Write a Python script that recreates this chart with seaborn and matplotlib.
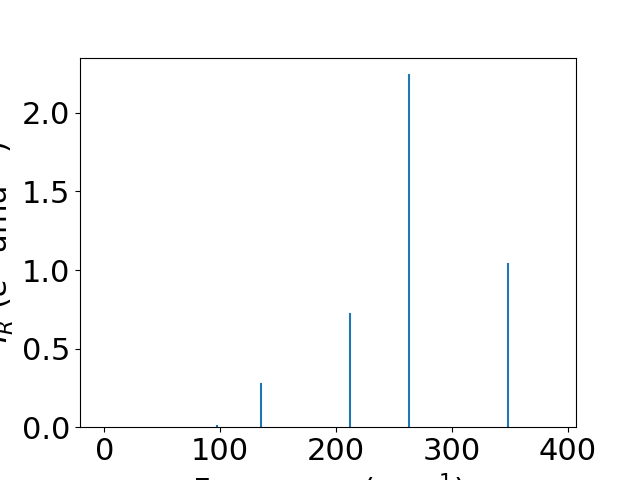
import pandas as pd
import matplotlib
matplotlib.use('Agg')
import matplotlib.pyplot as plt
import seaborn as sns

# Vibrational modes
frequencies = [97, 135, 212, 263, 348]
intensities = [0.005, 0.275, 0.72, 2.24, 1.04]

# Each peak becomes a vertical stick from 0 up to its intensity
rows = []
for i, (f, inten) in enumerate(zip(frequencies, intensities)):
    rows.append({'peak': i, 'freq': f, 'intensity': 0.0})
    rows.append({'peak': i, 'freq': f, 'intensity': inten})
sticks = pd.DataFrame(rows)

plt.rcParams['font.size'] = 22
fig, ax = plt.subplots(figsize=(6.4, 4.8), dpi=100)

sns.lineplot(data=sticks, x='freq', y='intensity', units='peak',
             estimator=None, sort=False, color='#1f77b4', linewidth=1.5, ax=ax)

ax.set_xlim(-21, 407)
ax.set_ylim(bottom=0)
ax.set_xticks([0, 100, 200, 300, 400])
ax.set_xlabel('Frequency (cm$^{-1}$)')
ax.set_ylabel('$I_R$ ($e^2$ amu$^{-1}$)')

plt.savefig('out.png')
plt.close()
